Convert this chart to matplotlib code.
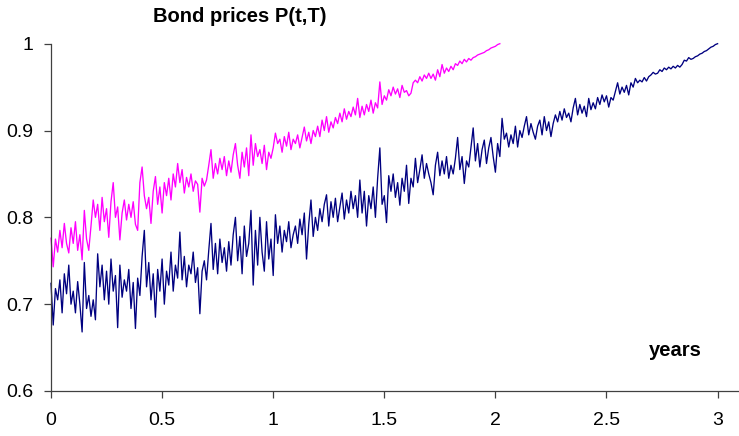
import numpy as np
import matplotlib
matplotlib.use('Agg')
import matplotlib.pyplot as plt

plt.rcParams['font.family'] = ['Liberation Sans', 'DejaVu Sans']

step = 0.01  # years between points

# bond with maturity T = 3 (navy)
p3 = [0.724, 0.676, 0.718, 0.705, 0.728, 0.690, 0.735, 0.712, 0.745, 0.700,
      0.715, 0.690, 0.726, 0.700, 0.668, 0.748, 0.695, 0.710, 0.686, 0.705,
      0.682, 0.758, 0.720, 0.745, 0.705, 0.738, 0.700, 0.752, 0.715, 0.733,
      0.673, 0.745, 0.708, 0.728, 0.715, 0.740, 0.695, 0.725, 0.672, 0.730,
      0.710, 0.755, 0.785, 0.720, 0.748, 0.705, 0.735, 0.685, 0.740, 0.715,
      0.752, 0.700, 0.738, 0.722, 0.760, 0.715, 0.745, 0.730, 0.783, 0.728,
      0.755, 0.720, 0.745, 0.735, 0.760, 0.725, 0.742, 0.689, 0.738, 0.750,
      0.728, 0.762, 0.793, 0.740, 0.770, 0.735, 0.775, 0.748, 0.765, 0.738,
      0.772, 0.745, 0.780, 0.800, 0.750, 0.778, 0.735, 0.790, 0.755, 0.770,
      0.808, 0.722, 0.785, 0.745, 0.800, 0.760, 0.738, 0.795, 0.752, 0.775,
      0.733, 0.803, 0.770, 0.790, 0.760, 0.785, 0.772, 0.795, 0.765, 0.780,
      0.790, 0.770, 0.798, 0.780, 0.805, 0.752, 0.792, 0.820, 0.778, 0.800,
      0.785, 0.810, 0.795, 0.815, 0.826, 0.790, 0.818, 0.800, 0.822, 0.795,
      0.812, 0.828, 0.798, 0.820, 0.805, 0.830, 0.810, 0.825, 0.800, 0.843,
      0.805, 0.830, 0.790, 0.825, 0.810, 0.835, 0.800, 0.845, 0.880, 0.815,
      0.825, 0.794, 0.848, 0.830, 0.850, 0.823, 0.840, 0.814, 0.845, 0.830,
      0.860, 0.816, 0.845, 0.835, 0.868, 0.840, 0.855, 0.872, 0.845, 0.862,
      0.850, 0.840, 0.826, 0.860, 0.875, 0.848, 0.865, 0.850, 0.870, 0.845,
      0.860, 0.850, 0.868, 0.892, 0.855, 0.870, 0.839, 0.865, 0.858, 0.880,
      0.903, 0.865, 0.885, 0.858, 0.878, 0.889, 0.862, 0.880, 0.892, 0.870,
      0.852, 0.885, 0.870, 0.914, 0.890, 0.897, 0.881, 0.895, 0.885, 0.905,
      0.881, 0.900, 0.892, 0.905, 0.916, 0.895, 0.908, 0.898, 0.890, 0.905,
      0.912, 0.895, 0.916, 0.900, 0.910, 0.893, 0.908, 0.918, 0.910, 0.922,
      0.912, 0.925, 0.915, 0.920, 0.910, 0.926, 0.937, 0.918, 0.930, 0.920,
      0.928, 0.916, 0.937, 0.924, 0.932, 0.925, 0.938, 0.930, 0.941, 0.933,
      0.940, 0.927, 0.938, 0.935, 0.945, 0.955, 0.942, 0.950, 0.944, 0.952,
      0.941, 0.955, 0.950, 0.960, 0.955, 0.958, 0.956, 0.961, 0.957, 0.962,
      0.964, 0.967, 0.965, 0.966, 0.970, 0.968, 0.972, 0.970, 0.973, 0.971,
      0.974, 0.972, 0.975, 0.973, 0.976, 0.981, 0.980, 0.984, 0.982, 0.983,
      0.985, 0.986, 0.988, 0.989, 0.991, 0.992, 0.994, 0.996, 0.997, 0.999,
      1.000]

# bond with maturity T = 2 (magenta)
p2 = [0.776, 0.743, 0.775, 0.760, 0.785, 0.765, 0.793, 0.770, 0.759, 0.788,
      0.770, 0.795, 0.762, 0.780, 0.751, 0.808, 0.775, 0.762, 0.790, 0.820,
      0.800, 0.815, 0.785, 0.823, 0.795, 0.810, 0.777, 0.818, 0.840, 0.800,
      0.812, 0.774, 0.805, 0.820, 0.797, 0.815, 0.800, 0.818, 0.792, 0.785,
      0.840, 0.858, 0.825, 0.810, 0.823, 0.793, 0.830, 0.847, 0.815, 0.835,
      0.805, 0.840, 0.825, 0.845, 0.820, 0.850, 0.835, 0.862, 0.840, 0.855,
      0.828, 0.846, 0.835, 0.850, 0.830, 0.842, 0.838, 0.806, 0.845, 0.836,
      0.843, 0.860, 0.878, 0.845, 0.862, 0.850, 0.868, 0.855, 0.870, 0.848,
      0.865, 0.852, 0.872, 0.885, 0.860, 0.845, 0.875, 0.858, 0.880, 0.848,
      0.895, 0.860, 0.885, 0.870, 0.878, 0.862, 0.883, 0.855, 0.875, 0.868,
      0.880, 0.897, 0.885, 0.890, 0.875, 0.893, 0.882, 0.898, 0.878, 0.890,
      0.885, 0.895, 0.880, 0.892, 0.904, 0.888, 0.898, 0.885, 0.900, 0.893,
      0.905, 0.893, 0.912, 0.900, 0.916, 0.898, 0.910, 0.903, 0.915, 0.908,
      0.920, 0.910, 0.925, 0.913, 0.922, 0.916, 0.927, 0.918, 0.937, 0.915,
      0.928, 0.918, 0.930, 0.922, 0.935, 0.920, 0.932, 0.926, 0.956, 0.930,
      0.940, 0.935, 0.947, 0.940, 0.950, 0.942, 0.948, 0.938, 0.952, 0.944,
      0.946, 0.940, 0.943, 0.955, 0.958, 0.955, 0.962, 0.957, 0.964, 0.960,
      0.966, 0.960, 0.965, 0.958, 0.970, 0.962, 0.976, 0.966, 0.972, 0.968,
      0.974, 0.970, 0.977, 0.975, 0.980, 0.977, 0.982, 0.979, 0.983, 0.981,
      0.984, 0.985, 0.987, 0.988, 0.989, 0.990, 0.992, 0.993, 0.995, 0.996,
      0.997, 0.999, 1.000]

xticks = [0, 0.5, 1, 1.5, 2, 2.5, 3]
xticklabels = ['0', '0.5', '1', '1.5', '2', '2.5', '3']
yticks = [0.6, 0.7, 0.8, 0.9, 1.0]
yticklabels = ['0.6', '0.7', '0.8', '0.9', '1']

t3 = np.arange(len(p3)) * step
t2 = np.arange(len(p2)) * step

W, H = 739, 436
fig = plt.figure(figsize=(W / 100, H / 100), dpi=100)
ax = fig.add_axes([51 / W, (H - 391) / H, 688 / W, (391 - 43.7) / H])

ax.plot(t2, p2, color='#ff00ff', lw=0.95, clip_on=False)
ax.plot(t3, p3, color='#000080', lw=0.95, clip_on=False)

ax.set_xlim(0, 688 / 222.2)
ax.set_ylim(0.6, 1.0)
ax.set_xticks(xticks)
ax.set_xticklabels(xticklabels)
ax.set_yticks(yticks)
ax.set_yticklabels(yticklabels)

for s in ['top', 'right']:
    ax.spines[s].set_visible(False)
for s in ['left', 'bottom']:
    ax.spines[s].set_color('#404040')
    ax.spines[s].set_linewidth(0.9)

ax.tick_params(axis='both', direction='out', length=5, width=0.9,
               color='#404040', labelsize=14, labelcolor='black')
ax.tick_params(axis='x', pad=10)
ax.tick_params(axis='y', pad=8)

fig.text(240 / W, 1 - 21.7 / H, 'Bond prices P(t,T)', ha='center',
         va='baseline', fontsize=14.5, fontweight='bold')
fig.text(675 / W, 1 - 356 / H, 'years', ha='center', va='baseline',
         fontsize=14.5, fontweight='bold')

fig.savefig('out.png', dpi=100)
